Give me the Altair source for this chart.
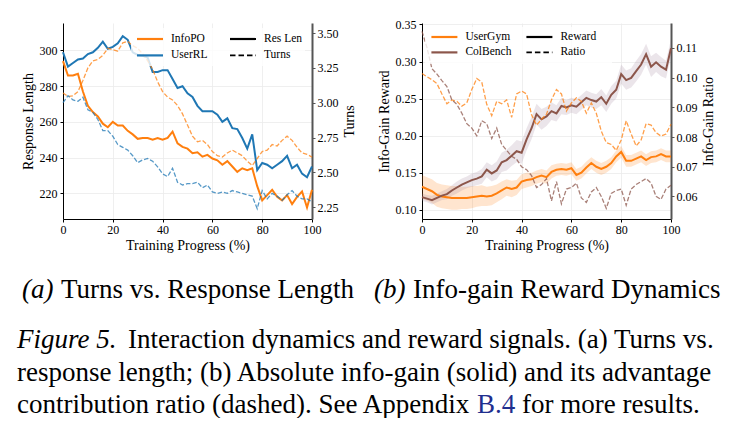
import altair as alt
import pandas as pd

FONT = "Liberation Serif"
ORANGE = "#ff7f0e"
BLUE = "#1f77b4"
BROWN = "#8c564b"
BROWN_BAND = "#9c7f94"
LINK_BLUE = "#1f2f8f"

# Training progress (%) shared by every series
progress = [0, 2, 4, 6, 8, 10,
            12, 14, 16, 18, 20, 22, 24, 26, 28, 30,
            32, 34, 36, 38, 40, 42, 44, 46, 48, 50,
            52, 54, 56, 58, 60, 62, 64, 66, 68, 70,
            72, 74, 76, 78, 80, 82, 84, 86, 88, 90,
            92, 94, 96, 98, 100]

# (a) response length (left axis)
infopo_len = [294, 286, 286, 287, 277, 269,
              265.5, 263, 259, 257, 260, 258, 258, 255, 253, 250.5,
              251, 251, 250, 251, 250, 251, 254.5, 248, 246, 245,
              242.5, 243, 240.5, 241.5, 239.5, 238.5, 236, 238, 235, 232,
              234, 233, 234, 224, 216, 219, 222, 218, 216, 219,
              214, 218, 221, 212, 222]
userrl_len = [299, 291, 293, 295, 295.5, 298,
              299, 301.5, 305, 301, 302, 304, 308, 306, 299, 297.5,
              297, 296, 288, 288, 289, 289, 284, 279, 280, 276,
              274, 269, 266, 266, 266, 264, 260, 262, 256.5, 256,
              251, 245, 253, 233, 237, 236, 234, 236, 238, 241,
              234, 236, 231, 229, 235]

# (a) turns (right axis)
infopo_turns = [3.07, 3.045, 3.05, 3.08, 3.16, 3.25,
                3.30, 3.31, 3.34, 3.39, 3.38, 3.37, 3.43, 3.44, 3.41, 3.39,
                3.35, 3.30, 3.24, 3.15, 3.08, 3.04, 3.02, 2.98, 2.92, 2.84,
                2.76, 2.72, 2.73, 2.70, 2.65, 2.62, 2.61, 2.64, 2.66, 2.64,
                2.62, 2.58, 2.55, 2.60, 2.65, 2.66, 2.70, 2.69, 2.73, 2.76,
                2.73, 2.68, 2.64, 2.63, 2.61]
userrl_turns = [3.00, 3.05, 3.02, 3.01, 3.04, 2.95,
                2.93, 2.88, 2.80, 2.80, 2.76, 2.70, 2.68, 2.66, 2.62, 2.57,
                2.59, 2.60, 2.58, 2.54, 2.49, 2.47, 2.53, 2.43, 2.41, 2.42,
                2.42, 2.43, 2.39, 2.41, 2.36, 2.35, 2.36, 2.35, 2.37, 2.36,
                2.35, 2.34, 2.33, 2.24, 2.37, 2.31, 2.35, 2.33, 2.30, 2.34,
                2.37, 2.33, 2.31, 2.31, 2.29]

# (b) info-gain reward (left axis) with its spread
usergym_reward = [0.131, 0.128, 0.125, 0.120, 0.118, 0.117,
                  0.116, 0.116, 0.116, 0.116, 0.117, 0.118, 0.119, 0.118, 0.119, 0.122,
                  0.126, 0.130, 0.128, 0.130, 0.138, 0.140, 0.141, 0.144, 0.146, 0.144,
                  0.151, 0.154, 0.155, 0.154, 0.156, 0.147, 0.150, 0.157, 0.163, 0.158,
                  0.155, 0.158, 0.163, 0.172, 0.178, 0.166, 0.166, 0.169, 0.172, 0.167,
                  0.171, 0.172, 0.175, 0.172, 0.172]
usergym_spread = [0.016, 0.016, 0.016, 0.016, 0.016, 0.016,
                  0.016, 0.016, 0.015, 0.015, 0.015, 0.014, 0.014, 0.013, 0.013, 0.012,
                  0.012, 0.011, 0.011, 0.010, 0.010, 0.010, 0.009, 0.009, 0.009, 0.009,
                  0.009, 0.008, 0.008, 0.008, 0.008, 0.008, 0.008, 0.008, 0.008, 0.008,
                  0.008, 0.008, 0.008, 0.008, 0.008, 0.008, 0.008, 0.008, 0.008, 0.008,
                  0.008, 0.008, 0.008, 0.008, 0.008]
colbench_reward = [0.117, 0.115, 0.113, 0.116, 0.119, 0.121,
                   0.126, 0.130, 0.134, 0.137, 0.140, 0.142, 0.145, 0.154, 0.149, 0.153,
                   0.164, 0.167, 0.173, 0.179, 0.177, 0.195, 0.210, 0.229, 0.222, 0.226,
                   0.233, 0.230, 0.240, 0.238, 0.241, 0.239, 0.245, 0.251, 0.248, 0.246,
                   0.252, 0.243, 0.255, 0.262, 0.283, 0.275, 0.278, 0.287, 0.296, 0.310,
                   0.293, 0.299, 0.293, 0.289, 0.318]
colbench_spread = [0.005, 0.005, 0.006, 0.006, 0.006, 0.007,
                   0.007, 0.008, 0.008, 0.008, 0.009, 0.009, 0.010, 0.010, 0.011, 0.012,
                   0.013, 0.014, 0.014, 0.015, 0.015, 0.015, 0.015, 0.014, 0.014, 0.013,
                   0.012, 0.011, 0.011, 0.010, 0.010, 0.010, 0.010, 0.010, 0.010, 0.010,
                   0.011, 0.011, 0.012, 0.012, 0.013, 0.013, 0.013, 0.014, 0.014, 0.014,
                   0.014, 0.013, 0.013, 0.012, 0.012]

# (b) advantage contribution ratio (right axis)
usergym_ratio = [0.1014, 0.1003, 0.0993, 0.0980, 0.0945, 0.0912,
                 0.0925, 0.0920, 0.0904, 0.0915, 0.0960, 0.0997, 0.0985, 0.0910, 0.0872, 0.0920,
                 0.0912, 0.0925, 0.0866, 0.0945, 0.0955, 0.0945, 0.0875, 0.0840, 0.0860, 0.0877,
                 0.0925, 0.0960, 0.0945, 0.0887, 0.0915, 0.0932, 0.0920, 0.0880, 0.0915, 0.0880,
                 0.0820, 0.0781, 0.0775, 0.0755, 0.0790, 0.0855, 0.0810, 0.0770, 0.0790, 0.0845,
                 0.0840, 0.0815, 0.0803, 0.0810, 0.0843]
colbench_ratio = [0.1156, 0.1101, 0.1030, 0.1012, 0.0990, 0.0970,
                  0.0925, 0.0910, 0.0880, 0.0845, 0.0830, 0.0804, 0.0855, 0.0845, 0.0795, 0.0830,
                  0.0775, 0.0755, 0.0735, 0.0725, 0.0700, 0.0690, 0.0670, 0.0630, 0.0640, 0.0660,
                  0.0585, 0.0650, 0.0575, 0.0625, 0.0630, 0.0645, 0.0595, 0.0580, 0.0615, 0.0630,
                  0.0600, 0.0560, 0.0610, 0.0620, 0.0625, 0.0570, 0.0625, 0.0640, 0.0650, 0.0660,
                  0.0645, 0.0600, 0.0590, 0.0625, 0.0638]

# Captions
sub_a = ["(a)", "Turns vs. Response Length"]
sub_b = ["(b)", "Info-gain Reward Dynamics"]
fig_label = "Figure 5."
caption_1 = "Interaction dynamics and reward signals. (a) Turns vs."
caption_2 = "response length; (b) Absolute info-gain (solid) and its advantage"
caption_3a = "contribution ratio (dashed). See Appendix"
caption_3b = "B.4"
caption_3c = "for more results."


def long_table(named):
    rows = []
    for name, values in named:
        for p, v in zip(progress, values):
            rows.append({"progress": p, "value": v, "method": name})
    return pd.DataFrame(rows)


len_df = long_table([("InfoPO", infopo_len), ("UserRL", userrl_len)])
turns_df = long_table([("InfoPO", infopo_turns), ("UserRL", userrl_turns)])
reward_df = long_table([("UserGym", usergym_reward), ("ColBench", colbench_reward)])
ratio_df = long_table([("UserGym", usergym_ratio), ("ColBench", colbench_ratio)])

band_rows = []
for name, values, spread in [("UserGym", usergym_reward, usergym_spread),
                             ("ColBench", colbench_reward, colbench_spread)]:
    for p, v, s in zip(progress, values, spread):
        band_rows.append({"progress": p, "lo": v - s, "hi": v + s, "method": name})
band_df = pd.DataFrame(band_rows)

W, H = 249, 196
ONE = alt.Data(values=[{"k": 0}])

x_enc = alt.X("progress:Q", scale=alt.Scale(domain=[0, 100], nice=False),
              axis=alt.Axis(values=[0, 20, 40, 60, 80, 100], title="Training Progress (%)",
                            labelFlush=False, labelPadding=2, titlePadding=3))


def left_axis(ticks, title, fmt):
    return alt.Axis(values=ticks, title=title, orient="left", grid=True, format=fmt,
                    labelPadding=3, titlePadding=4)


def right_axis(ticks, title):
    # title reads bottom-to-top, like the left one
    return alt.Axis(values=ticks, title=title, orient="right", format=".2f",
                    titleAngle=270, titleBaseline="top",
                    domainColor="#555555", domainWidth=2, tickColor="#555555",
                    labelPadding=2, titlePadding=4, grid=False)


def legend_layers(box, entries):
    x0, y0, x1, y1 = box
    layers = [alt.Chart(ONE).mark_rect(fill="white", opacity=0.8).encode(
        x=alt.value(x0), x2=alt.value(x1), y=alt.value(y0), y2=alt.value(y1))]
    for label, color, dashed, lx, ly in entries:
        style = {"color": color, "strokeWidth": 1.6 if dashed else 2.2}
        if dashed:
            style["strokeDash"] = [5.5, 3]
        layers.append(alt.Chart(ONE).mark_rule(**style).encode(
            x=alt.value(lx), x2=alt.value(lx + 26), y=alt.value(ly)))
        layers.append(alt.Chart(ONE).mark_text(
            align="left", baseline="middle", font=FONT, fontSize=11.5, color="black").encode(
            x=alt.value(lx + 34), y=alt.value(ly), text=alt.value(label)))
    return layers


def caption_text(text, x, y, italic=False, color="black"):
    return alt.Chart(ONE).mark_text(
        align="left", baseline="alphabetic", font=FONT, fontSize=27, color=color,
        fontStyle="italic" if italic else "normal").encode(
        x=alt.value(x), y=alt.value(y), text=alt.value(text))


# Captions under both panels, placed relative to the left panel's plot origin
captions = [
    caption_text(sub_a[0], -41, 275, italic=True),
    caption_text(sub_a[1], -2, 275),
    caption_text(sub_b[0], 311, 275, italic=True),
    caption_text(sub_b[1], 350, 275),
    caption_text(fig_label, -46, 325, italic=True),
    caption_text(caption_1, 65, 325),
    caption_text(caption_2, -46, 358),
    caption_text(caption_3a, -46, 390),
    caption_text(caption_3b, 414, 390, color=LINK_BLUE),
    caption_text(caption_3c, 459, 390),
]

# ---------- (a) Turns vs. response length ----------
method_colors = alt.Color("method:N", legend=None,
                          scale=alt.Scale(domain=["InfoPO", "UserRL"], range=[ORANGE, BLUE]))

len_lines = alt.Chart(len_df).mark_line(strokeWidth=2).encode(
    x=x_enc,
    y=alt.Y("value:Q", scale=alt.Scale(domain=[205.6, 315.4], nice=False, zero=False),
            axis=left_axis([220, 240, 260, 280, 300], "Response Length", "d")),
    color=method_colors,
)
turns_lines = alt.Chart(turns_df).mark_line(strokeWidth=1.3, strokeDash=[4.5, 2], opacity=0.75).encode(
    x=x_enc,
    y=alt.Y("value:Q", scale=alt.Scale(domain=[2.166, 3.572], nice=False, zero=False),
            axis=right_axis([2.25, 2.5, 2.75, 3.0, 3.25, 3.5], "Turns")),
    color=method_colors,
)
legend_a = legend_layers((68, 5, 242, 43), [
    ("InfoPO", ORANGE, False, 74, 16),
    ("UserRL", BLUE, False, 74, 32.4),
    ("Res Len", "black", False, 167, 16),
    ("Turns", "black", True, 167, 32.4),
])
panel_a = alt.layer(len_lines, turns_lines, *legend_a, *captions).resolve_scale(
    y="independent").properties(width=W, height=H)

# ---------- (b) Info-gain reward dynamics ----------
env_colors = alt.Color("method:N", legend=None,
                       scale=alt.Scale(domain=["UserGym", "ColBench"], range=[ORANGE, BROWN]))
band_colors = alt.Color("method:N", legend=None,
                        scale=alt.Scale(domain=["UserGym", "ColBench"], range=[ORANGE, BROWN_BAND]))
reward_scale = alt.Scale(domain=[0.0875, 0.352], nice=False, zero=False)
reward_axis = left_axis([0.10, 0.15, 0.20, 0.25, 0.30, 0.35], "Info-Gain Reward", ".2f")

bands = alt.Chart(band_df).mark_area(opacity=0.2).encode(
    x=x_enc,
    y=alt.Y("lo:Q", scale=reward_scale, axis=reward_axis),
    y2="hi:Q",
    color=band_colors,
)
reward_lines = alt.Chart(reward_df).mark_line(strokeWidth=2).encode(
    x=x_enc,
    y=alt.Y("value:Q", scale=reward_scale, axis=reward_axis),
    color=env_colors,
)
ratio_lines = alt.Chart(ratio_df).mark_line(strokeWidth=1.3, strokeDash=[4.5, 2], opacity=0.75).encode(
    x=x_enc,
    y=alt.Y("value:Q", scale=alt.Scale(domain=[0.0524, 0.1184], nice=False, zero=False),
            axis=right_axis([0.06, 0.07, 0.08, 0.09, 0.10, 0.11], "Info-Gain Ratio")),
    color=env_colors,
)
legend_b = legend_layers((3, 4, 190, 41), [
    ("UserGym", ORANGE, False, 9.4, 14),
    ("ColBench", BROWN, False, 9.4, 29.4),
    ("Reward", "black", False, 104.4, 14),
    ("Ratio", "black", True, 104.4, 29.4),
])
panel_b = alt.layer(
    alt.layer(bands, reward_lines).resolve_scale(color="independent"),
    ratio_lines, *legend_b
).resolve_scale(y="independent").properties(width=W, height=H)

chart = alt.hconcat(panel_a, panel_b, spacing=110, bounds="flush").resolve_scale(
    color="independent"
).properties(
    padding={"left": 17, "top": 18, "right": 0, "bottom": 0}
).configure_view(stroke=None).configure_axis(
    labelFont=FONT, titleFont=FONT, labelFontSize=12, titleFontSize=14,
    titleFontWeight="normal", labelColor="black", titleColor="black",
    domainColor="black", tickColor="black", tickSize=3,
    gridColor="#ebebeb", gridWidth=0.8,
)

chart.save("out.html", embed_options={"renderer": "svg", "actions": False})
